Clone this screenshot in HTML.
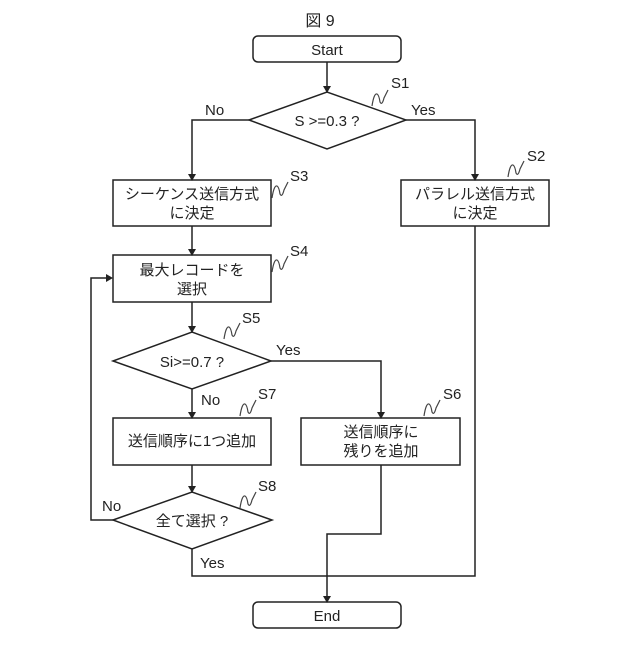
<!DOCTYPE html>
<html><head><meta charset="utf-8"><style>
html,body{margin:0;padding:0;background:#fff;}
svg text{font-family:"Liberation Sans","Noto Sans CJK JP",sans-serif;fill:#222;}
</style></head><body>
<svg width="640" height="640" viewBox="0 0 640 640" xmlns="http://www.w3.org/2000/svg">
<defs>
<marker id="a" markerWidth="8" markerHeight="8" refX="4" refY="7" orient="auto-start-reverse" markerUnits="userSpaceOnUse">
<path d="M0,0 L8,0 L4,8 z" fill="#222" transform="rotate(0)"/>
</marker>
<path id="sq" d="M0,16 Q2,3 5,4 Q7,5 8,12 Q10,16 12,8 L16,0" fill="none" stroke="#444" stroke-width="1.2"/>
</defs>
<g stroke="#222" stroke-width="1.5" fill="none">
<rect x="253" y="36" width="148" height="26" rx="5"/>
<rect x="253" y="602" width="148" height="26" rx="5"/>
<polygon points="249,120 327,92 406,120 327,149" fill="#fff"/>
<rect x="113" y="180" width="158" height="46"/>
<rect x="401" y="180" width="148" height="46"/>
<rect x="113" y="255" width="158" height="47"/>
<polygon points="113,361 192,332 271,361 192,389"/>
<rect x="113" y="418" width="158" height="47"/>
<rect x="301" y="418" width="159" height="47"/>
<polygon points="113,520 192,492 272,520 192,549"/>
<!-- connectors -->
<path d="M327,62 V88"/>
<path d="M249,120 H192 V176"/>
<path d="M406,120 H475 V176"/>
<path d="M192,226 V251"/>
<path d="M192,302 V328"/>
<path d="M271,361 H381 V414"/>
<path d="M192,389 V414"/>
<path d="M192,465 V488"/>
<path d="M113,520 H91 V278 H109"/>
<path d="M192,549 V576 H475 V226"/>
<path d="M381,465 V534 H327 V598"/>
</g>
<g fill="#222">
<path d="M323,86 L331,86 L327,93 z"/>
<path d="M188,174 L196,174 L192,181 z"/>
<path d="M471,174 L479,174 L475,181 z"/>
<path d="M188,249 L196,249 L192,256 z"/>
<path d="M188,326 L196,326 L192,333 z"/>
<path d="M377,412 L385,412 L381,419 z"/>
<path d="M188,412 L196,412 L192,419 z"/>
<path d="M188,486 L196,486 L192,493 z"/>
<path d="M106,274 L106,282 L113,278 z"/>
<path d="M323,596 L331,596 L327,603 z"/>
</g>
<use href="#sq" x="372" y="90"/>
<use href="#sq" x="508" y="161"/>
<use href="#sq" x="272" y="182"/>
<use href="#sq" x="272" y="256"/>
<use href="#sq" x="224" y="323"/>
<use href="#sq" x="424" y="400"/>
<use href="#sq" x="240" y="400"/>
<use href="#sq" x="240" y="492"/>
<g font-size="15">
<text x="320" y="26" text-anchor="middle" font-size="16">図 9</text>
<text x="327" y="55" text-anchor="middle">Start</text>
<text x="327" y="621" text-anchor="middle">End</text>
<text x="327" y="126" text-anchor="middle">S &gt;=0.3 ?</text>
<text x="192" y="367" text-anchor="middle">Si&gt;=0.7 ?</text>
<text x="192" y="526" text-anchor="middle">全て選択 ?</text>
<text x="192" y="199" text-anchor="middle">シーケンス送信方式</text>
<text x="192" y="218" text-anchor="middle">に決定</text>
<text x="475" y="199" text-anchor="middle">パラレル送信方式</text>
<text x="475" y="218" text-anchor="middle">に決定</text>
<text x="192" y="275" text-anchor="middle">最大レコードを</text>
<text x="192" y="294" text-anchor="middle">選択</text>
<text x="192" y="446" text-anchor="middle">送信順序に1つ追加</text>
<text x="381" y="437" text-anchor="middle">送信順序に</text>
<text x="381" y="456" text-anchor="middle">残りを追加</text>
<text x="205" y="115">No</text>
<text x="411" y="115">Yes</text>
<text x="276" y="355">Yes</text>
<text x="201" y="405">No</text>
<text x="102" y="511">No</text>
<text x="200" y="568">Yes</text>
<text x="391" y="88">S1</text>
<text x="527" y="161">S2</text>
<text x="290" y="181">S3</text>
<text x="290" y="256">S4</text>
<text x="242" y="323">S5</text>
<text x="443" y="399">S6</text>
<text x="258" y="399">S7</text>
<text x="258" y="491">S8</text>
</g>
</svg>
</body></html>
